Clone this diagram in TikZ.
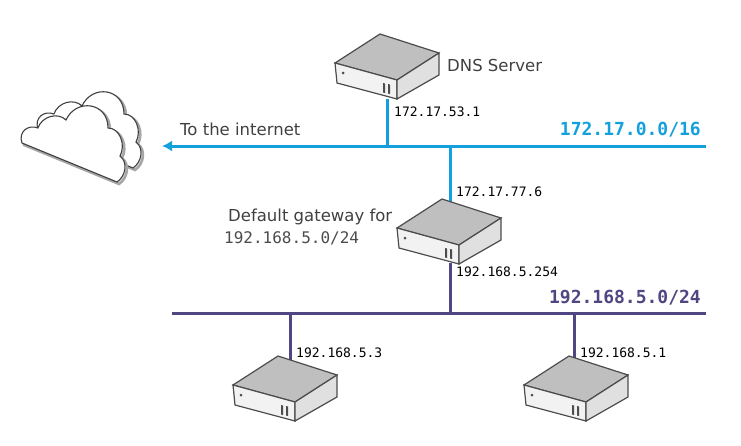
\documentclass[tikz,border=0pt]{standalone}
\usepackage{fontspec}
\setmainfont{DejaVu Sans}
\newfontfamily\mono{DejaVu Sans Mono}
\usetikzlibrary{arrows.meta}
\begin{document}
\begin{tikzpicture}[x=1pt,y=-1pt,
  blue line/.style={draw={rgb,255:red,20;green,160;blue,220},line width=3pt},
  purple line/.style={draw={rgb,255:red,80;green,70;blue,130},line width=3pt},
  ip/.style={font=\mono\fontsize{13}{14}\selectfont,anchor=west,inner sep=0},
  lbl/.style={font=\fontsize{16.5}{18}\selectfont,text=black!75,anchor=west,inner sep=0},
  server/.pic={
    \draw[black!70,line width=1.2pt,fill=black!25] (0,0)--(45,-29)--(104,-10)--(62,17)--cycle;
    \draw[black!70,line width=1.2pt,fill=black!5] (0,0)--(62,17)--(62,36)--(2,20)--cycle;
    \draw[black!70,line width=1.2pt,fill=black!12] (62,17)--(104,-10)--(104,12)--(62,36)--cycle;
    \fill[black!70] (8,10) circle (1.5);
    \fill[black!70] (48,20)--(50,20.5)--(50,30)--(48,29.5)--cycle;
    \fill[black!70] (53,21)--(55,21.5)--(55,31)--(53,30.5)--cycle;
  },
  cloudpath/.pic={
    \draw[black!35,line width=2.5pt,fill=black!12,shift={(2,2)}] (22,143) .. controls (18,132) and (28,124) .. (38,128) .. controls (42,116) and (58,112) .. (66,120) .. controls (76,98) and (108,102) .. (108,128) .. controls (120,128) and (126,145) .. (120,156) .. controls (128,162) and (126,176) .. (117,182) -- cycle;
    \draw[black!75,line width=1.1pt,fill=white] (22,143) .. controls (18,132) and (28,124) .. (38,128) .. controls (42,116) and (58,112) .. (66,120) .. controls (76,98) and (108,102) .. (108,128) .. controls (120,128) and (126,145) .. (120,156) .. controls (128,162) and (126,176) .. (117,182) -- cycle;
  }]
\useasboundingbox (0,0) rectangle (741,445);
\coordinate (dnsb) at (387,99);
\coordinate (gwt) at (450,205);
\coordinate (gwb) at (450,263);
\coordinate (h1t) at (290,375);
\coordinate (h2t) at (574,375);
\coordinate (bl) at (162,146);
\coordinate (br) at (706,146);
\coordinate (pl) at (172,313);
\coordinate (pr) at (706,313);
% lines
\draw[blue line] (dnsb) -- (387,146);
\draw[blue line] (450,146) -- (gwt);
\draw[blue line,-{Latex[length=10pt,width=11pt]}] (br) -- (bl);
\draw[purple line] (pl) -- (pr);
\draw[purple line] (gwb) -- (450,313);
\draw[purple line] (290,313) -- (h1t);
\draw[purple line] (574,313) -- (h2t);
% servers
\pic (dns) at (335,63) {server};
\pic (gw) at (397,228) {server};
\pic (h1) at (233,385) {server};
\pic (h2) at (524,385) {server};
% cloud
\pic (cb) at (16,-14) {cloudpath};
\pic (cf) at (0,0) {cloudpath};
% labels
\node[lbl] (t1) at (447,65) {DNS Server};
\node[ip] (t2) at (394,112) {172.17.53.1};
\node[lbl] (t3) at (180,129) {To the internet};
\node[font=\mono\bfseries\fontsize{18}{20}\selectfont,text={rgb,255:red,20;green,160;blue,220},anchor=east,inner sep=0] (t4) at (701,130) {172.17.0.0/16};
\node[ip] (t5) at (456,192) {172.17.77.6};
\node[lbl] (t6) at (228,217) {Default gateway for};
\node[font=\mono\fontsize{16}{18}\selectfont,text=black!70,anchor=west,inner sep=0] (t7) at (224,238) {192.168.5.0/24};
\node[ip] (t8) at (456,272) {192.168.5.254};
\node[font=\mono\bfseries\fontsize{18}{20}\selectfont,text={rgb,255:red,80;green,70;blue,130},anchor=east,inner sep=0] (t9) at (701,298) {192.168.5.0/24};
\node[ip] (t10) at (296,353) {192.168.5.3};
\node[ip] (t11) at (580,353) {192.168.5.1};
\end{tikzpicture}
\end{document}
